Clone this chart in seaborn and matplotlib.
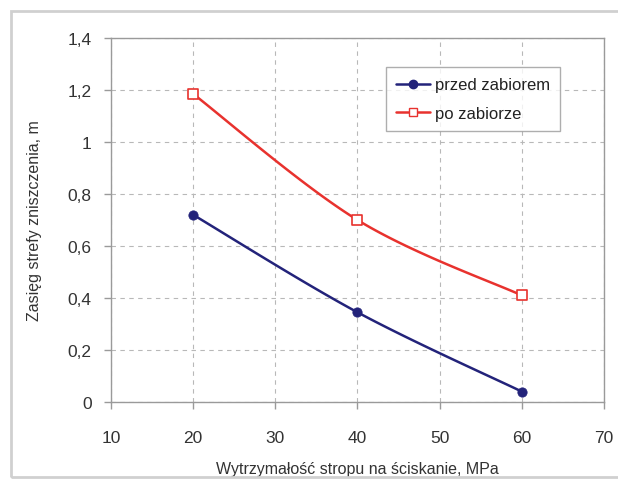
import numpy as np
import pandas as pd
import seaborn as sns
import matplotlib
matplotlib.use("Agg")
import matplotlib.pyplot as plt
from matplotlib.lines import Line2D
from matplotlib.patches import Rectangle
from matplotlib.ticker import FuncFormatter, MultipleLocator

# data
x_vals = [20, 40, 60]
przed = [0.72, 0.345, 0.04]
po = [1.185, 0.70, 0.41]
series_names = ["przed zabiorem", "po zabiorze"]
x_label = "Wytrzymałość stropu na ściskanie, MPa"
y_label = "Zasięg strefy zniszczenia, m"

sns.set_theme(style="white")
plt.rcParams['font.family'] = ['Liberation Sans', 'DejaVu Sans']

def smooth(xs, ys, n=40):
    # Catmull-Rom style smoothing (like Excel smoothed lines)
    xs = np.asarray(xs, float); ys = np.asarray(ys, float)
    px = np.concatenate([[xs[0]], xs, [xs[-1]]])
    py = np.concatenate([[ys[0]], ys, [ys[-1]]])
    ox, oy = [], []
    t = np.linspace(0, 1, n)
    for i in range(1, len(px) - 2):
        p0 = np.array([px[i], py[i]]); p3 = np.array([px[i+1], py[i+1]])
        p1 = p0 + (np.array([px[i+1], py[i+1]]) - np.array([px[i-1], py[i-1]])) / 6
        p2 = p3 - (np.array([px[i+2], py[i+2]]) - np.array([px[i], py[i]])) / 6
        b = ((1-t)**3)[:, None]*p0 + (3*(1-t)**2*t)[:, None]*p1 + (3*(1-t)*t**2)[:, None]*p2 + (t**3)[:, None]*p3
        ox.extend(b[:, 0]); oy.extend(b[:, 1])
    return np.array(ox), np.array(oy)

fig = plt.figure(figsize=(6.18, 4.81), dpi=100)
ax = fig.add_axes([0.1796, 0.1622, 0.7977, 0.7567])

navy = "#23237a"
red = "#e8322e"

sx, sy = smooth(x_vals, przed)
sns.lineplot(x=sx, y=sy, ax=ax, color=navy, lw=1.8, sort=False, estimator=None)
sx, sy = smooth(x_vals, po)
sns.lineplot(x=sx, y=sy, ax=ax, color=red, lw=1.8, sort=False, estimator=None)

sns.scatterplot(x=x_vals, y=przed, ax=ax, color=navy, marker="o", s=45, edgecolor=navy, zorder=5)
ax.scatter(x_vals, po, marker="s", s=45, facecolor="white", edgecolor=red, linewidth=1.2, zorder=5)

ax.set_xlim(10, 70)
ax.set_ylim(0, 1.4)
ax.xaxis.set_major_locator(MultipleLocator(10))
ax.yaxis.set_major_locator(MultipleLocator(0.2))
fmt = FuncFormatter(lambda v, p: ("%g" % round(v, 2)).replace(".", ","))
ax.yaxis.set_major_formatter(fmt)
ax.xaxis.set_major_formatter(fmt)

ax.grid(True, color="#b8b8b8", linestyle=(0, (4, 4)), lw=0.8)
for s in ax.spines.values():
    s.set_color("#9a9a9a"); s.set_linewidth(1.0)
ax.tick_params(axis="both", colors="#9a9a9a", labelcolor="#333333", labelsize=12.5,
               length=5, width=1, direction="out", bottom=True, left=True)
ax.tick_params(axis="x", pad=15)
ax.tick_params(axis="y", pad=9)

ax.set_xlabel(x_label, fontsize=11.5, color="#333333", labelpad=12)
ax.set_ylabel(y_label, fontsize=11.5, color="#333333", labelpad=18)

handles = [Line2D([0], [0], color=navy, lw=1.8, marker="o", markersize=6, markerfacecolor=navy),
           Line2D([0], [0], color=red, lw=1.8, marker="s", markersize=6, markerfacecolor="white", markeredgecolor=red)]
leg = ax.legend(handles, series_names, loc="upper right", bbox_to_anchor=(0.927, 0.942),
                fontsize=12, frameon=True, fancybox=False, handlelength=2.0,
                borderpad=0.6, labelspacing=0.8, handletextpad=0.3)
leg.get_frame().set_edgecolor("#9a9a9a")
leg.get_frame().set_linewidth(1.0)
for t in leg.get_texts():
    t.set_color("#222222")

# outer frame
fig.patches.append(Rectangle((11/618, 1 - 478/481), 1.2, (478-12)/481, transform=fig.transFigure,
                             fill=False, edgecolor="#d0d0d0", lw=2, zorder=0))

fig.savefig("out.png", dpi=100)
